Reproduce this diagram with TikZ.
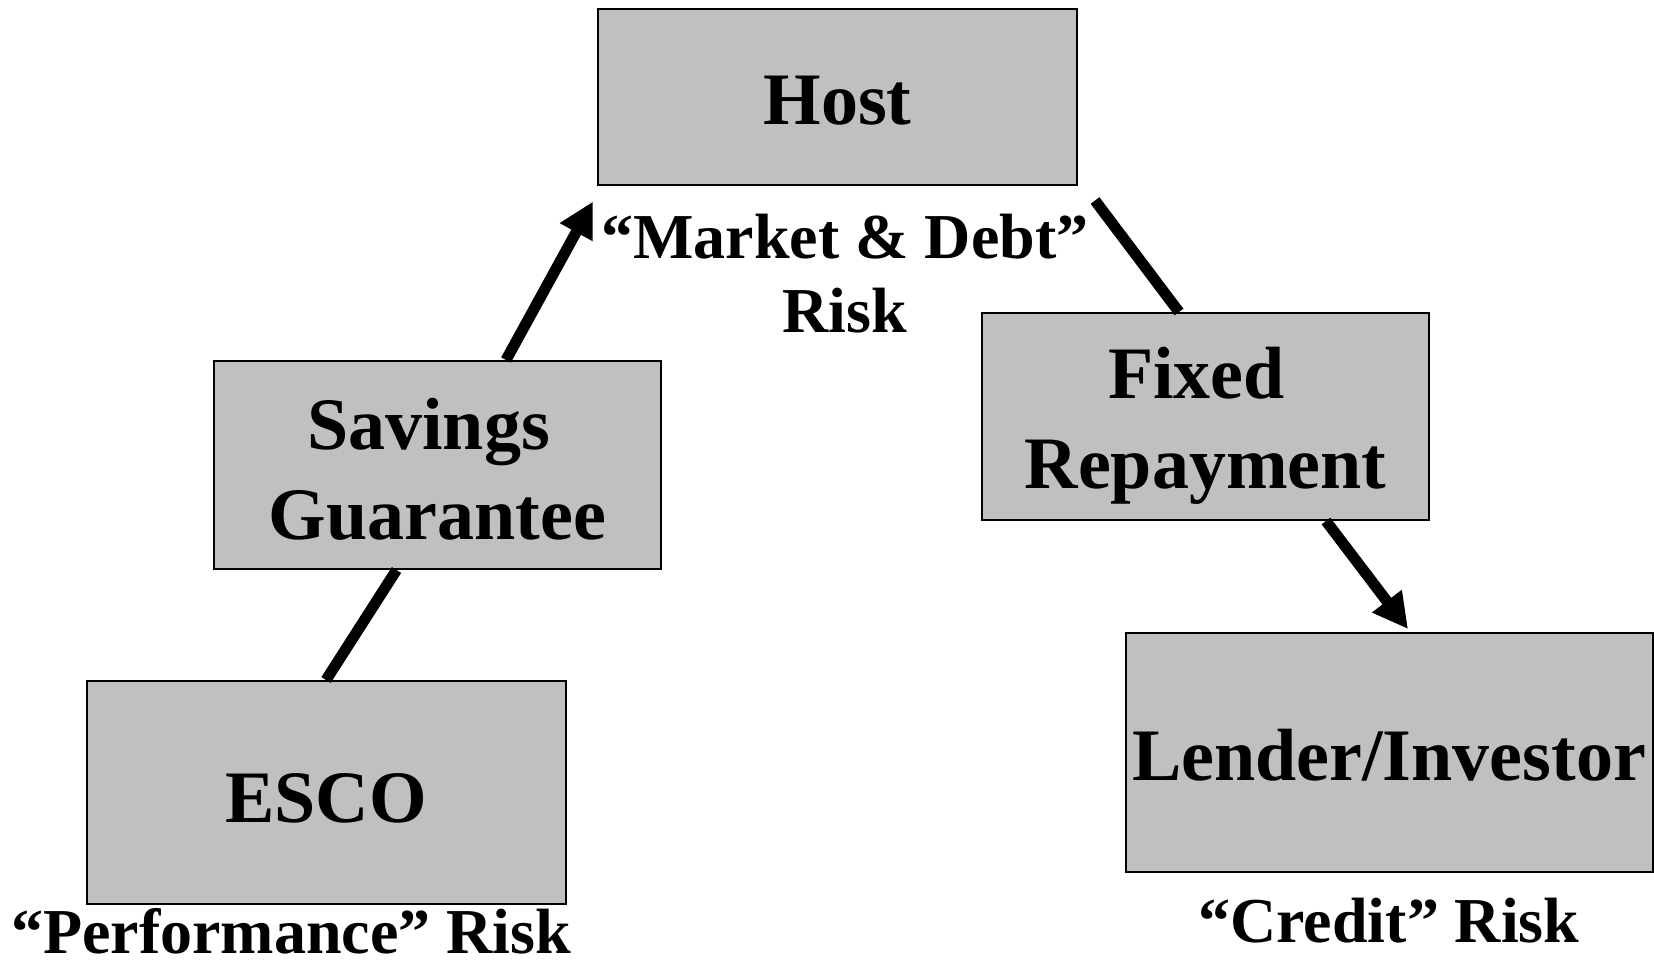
\documentclass[tikz,border=0pt]{standalone}
\usepackage{fontspec}
\setmainfont{Liberation Serif}
\usetikzlibrary{arrows.meta,calc}
\definecolor{boxgray}{HTML}{C0C0C0}
\newcommand{\lowr}[1]{\rule{0pt}{#1}}
\begin{document}
\begin{tikzpicture}[x=1pt,y=-1pt,
  box/.style={draw=black, line width=2pt, fill=boxgray, inner sep=0pt, align=center,
    font=\fontsize{74}{90}\selectfont\bfseries},
  lbl/.style={inner sep=0pt, align=center, anchor=base,
    font=\fontsize{64}{74}\selectfont\bfseries},
  conn/.style={line width=11pt},
  arr/.style={conn, -{Triangle[length=35pt,width=35pt]}}]
\useasboundingbox (0,0) rectangle (1654,966);
\node[box, minimum width=479pt, minimum height=175pt] (host) at (837.5,97) {\lowr{56pt}Host};
\node[box, minimum width=447pt, minimum height=208pt] (sav) at (437.5,465) {\lowr{60pt}Savings\hspace*{18pt}\\Guarantee};
\node[box, minimum width=479pt, minimum height=223pt] (esco) at (326,792.5) {\lowr{60pt}ESCO};
\node[box, minimum width=447pt, minimum height=207pt] (fix) at (1205.5,416.5) {\lowr{70pt}Fixed\hspace*{18pt}\\Repayment};
\node[box, minimum width=527pt, minimum height=239pt] (lend) at (1389,752.5) {\lowr{56pt}Lender/Investor};
\node[lbl] (mlab) at (845,332) {“Market \& Debt”\\Risk};
\node[lbl] (plab) at (291,953) {“Performance” Risk};
\node[lbl] (clab) at (1389,942) {“Credit” Risk};
\draw[conn] (esco.north) -- ($(sav.south)+(-41,0)$);
\draw[arr] ($(sav.north)+(68.5,0)$) -- ($(host.south west)+(-4,16)$);
\draw[conn] ($(host.south east)+(17,15)$) -- ($(fix.north)+(-26.5,0)$);
\draw[arr] ($(fix.south)+(120.5,0)$) -- ($(lend.north)+(19,-3)$);
\end{tikzpicture}
\end{document}
